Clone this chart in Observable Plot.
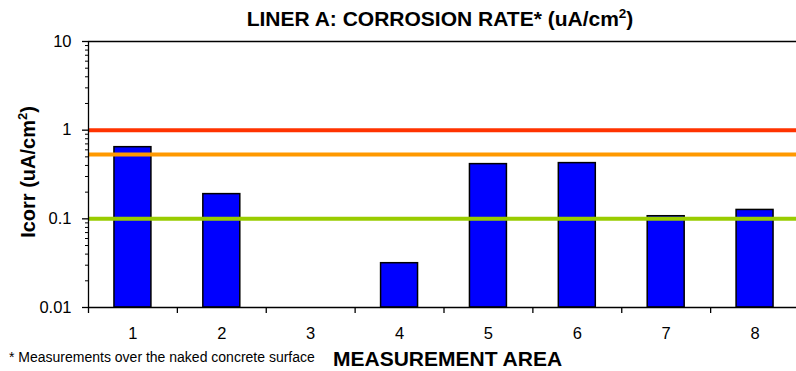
<!DOCTYPE html>
<html>
<head>
<meta charset="utf-8">
<script src="https://cdn.jsdelivr.net/npm/d3@7"></script>
<script src="https://cdn.jsdelivr.net/npm/@observablehq/plot@0.6"></script>
<style>
  html, body { margin: 0; padding: 0; background: white; }
  svg { overflow: visible; }
</style>
</head>
<body>
<div id="chart"></div>
<script>
// ---- data ----
const areas = [1, 2, 3, 4, 5, 6, 7, 8];
const icorr = [0.643, 0.19, null, 0.0316, 0.414, 0.425, 0.107, 0.126];
const yTickValues = [0.01, 0.1, 1, 10];
const yTickLabels = ["0.01", "0.1", "1", "10"];
const thresholdValues = [1, 0.532, 0.1];
const thresholdColors = ["#FF3300", "#FF9900", "#99CC00"];
const titleText = "LINER A: CORROSION RATE* (uA/cm";
const yLabelText = "Icorr (uA/cm";
const xLabelText = "MEASUREMENT AREA";
const footnoteText = "* Measurements over the naked concrete surface";

const data = areas.map((a, i) => ({area: a, icorr: icorr[i]})).filter(d => d.icorr != null);
const thresholds = thresholdValues.map((v, i) => ({v, c: thresholdColors[i]}));
const boundaries = d3.range(areas[0] - 0.5, areas[areas.length - 1] + 1, 1);
const minorTicks = d3.scaleLog().domain([0.01, 10]).ticks().filter(t => !yTickValues.includes(t));
const halfBar = 0.208;

const svg = Plot.plot({
  width: 796,
  height: 371,
  marginLeft: 88,
  marginTop: 41,
  marginBottom: 64,
  marginRight: 0,
  style: {fontFamily: "'Liberation Sans', Arial, sans-serif", fontSize: "16px", color: "black", background: "white"},
  x: {type: "linear", domain: [0.5, 8.5], range: [88, 799]},
  y: {type: "log", domain: [0.01, 10]},
  marks: [
    Plot.rectY(data, {x1: d => d.area - halfBar, x2: d => d.area + halfBar, y1: 0.01, y2: "icorr",
      fill: "#0000FF", stroke: "black", strokeWidth: 1.5}),
    Plot.ruleY(thresholds, {y: "v", stroke: "c", strokeWidth: 4}),
    Plot.ruleY([10, 0.01], {stroke: "black", strokeWidth: 1.3}),
    Plot.ruleX([0.5], {stroke: "black", strokeWidth: 1.3}),
    Plot.axisY({ticks: yTickValues, tickFormat: d => yTickLabels[yTickValues.indexOf(d)],
      tickSize: 6, tickPadding: 11, fontSize: 16.5, label: null, stroke: "black", strokeWidth: 1.3}),
    Plot.axisY({ticks: minorTicks, tickFormat: () => "", tickSize: 3, label: null, stroke: "black", strokeWidth: 1}),
    Plot.axisX({ticks: boundaries, tickFormat: () => "", tickSize: 6, label: null, stroke: "black", strokeWidth: 1.3}),
    Plot.axisX({ticks: areas, tickFormat: d => String(d), tickSize: 0, tickPadding: 20, fontSize: 16.5, label: null})
  ]
});

const s = d3.select(svg);
// title
const t = s.append("text")
  .attr("x", 440).attr("y", 26)
  .attr("text-anchor", "middle")
  .attr("font-weight", "bold").attr("font-size", 21)
  .attr("fill", "black");
t.append("tspan").text(titleText);
t.append("tspan").attr("font-size", 13.5).attr("dy", -8).text("2");
t.append("tspan").attr("dy", 8).text(")");

// y label
const yl = s.append("text")
  .attr("transform", "translate(34.5,172) rotate(-90)")
  .attr("text-anchor", "middle")
  .attr("font-weight", "bold").attr("font-size", 20)
  .attr("fill", "black");
yl.append("tspan").text(yLabelText);
yl.append("tspan").attr("font-size", 13).attr("dy", -8).text("2");
yl.append("tspan").attr("dy", 8).text(")");

// x label
s.append("text")
  .attr("x", 333).attr("y", 365.5)
  .attr("text-anchor", "start")
  .attr("font-weight", "bold").attr("font-size", 21)
  .attr("fill", "black")
  .text(xLabelText);

// footnote
s.append("text")
  .attr("x", 9).attr("y", 362)
  .attr("text-anchor", "start")
  .attr("font-size", 14)
  .attr("fill", "black")
  .text(footnoteText);

document.getElementById("chart").appendChild(svg);
</script>
</body>
</html>
